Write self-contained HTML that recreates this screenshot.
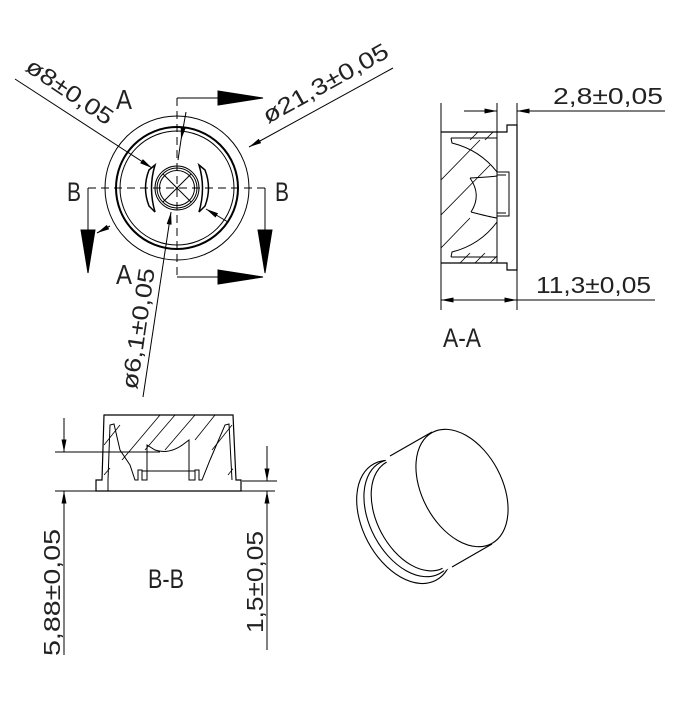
<!DOCTYPE html>
<html><head><meta charset="utf-8"><style>
html,body{margin:0;padding:0;background:#fff;}
svg{display:block;}
text{font-family:"Liberation Sans",sans-serif;fill:#222;}
</style></head><body>
<svg width="675" height="708" viewBox="0 0 675 708" xmlns="http://www.w3.org/2000/svg">
<defs>
<marker id="ar" viewBox="0 0 10 4" refX="10" refY="2" markerWidth="14" markerHeight="5" markerUnits="userSpaceOnUse" orient="auto"><path d="M0,0 L10,2 L0,4 Z" fill="#000"/></marker>
<clipPath id="ca"><path d="M441,132 H497 V263 H441 Z"/></clipPath>
<clipPath id="cb"><path d="M104,415 H233 V480 H104 Z"/></clipPath>
</defs>
<g fill="none" stroke="#000" stroke-width="1">
<circle cx="177" cy="188" r="72"/>
<circle cx="177" cy="188" r="61" stroke-width="2"/>
<circle cx="177" cy="188" r="57"/>
<circle cx="177" cy="188" r="22"/>
<circle cx="177" cy="188" r="20"/>
<circle cx="177" cy="188" r="17.5"/>
<path d="M155,165 L149,170 Q142,188 149,206 L155,212 Q148,188 155,165 Z" stroke-width="1.5"/>
<path d="M199,165 L205,170 Q212,188 205,206 L199,212 Q206,188 199,165 Z" stroke-width="1.5"/>
<line x1="163" y1="174" x2="191" y2="202"/>
<line x1="191" y1="174" x2="163" y2="202"/>
<line x1="88" y1="188" x2="265" y2="188" stroke-dasharray="8,5"/>
<line x1="177" y1="98" x2="177" y2="277" stroke-dasharray="8,5"/>
<polyline points="177,98 263,98"/><path d="M218,91 L263,98 L218,105 Z" fill="#000"/>
<polyline points="177,277 263,277"/><path d="M218,270 L263,277 L218,284 Z" fill="#000"/>
<polyline points="88,188 88,272"/><path d="M81,230 L88,273 L95,230 Z" fill="#000"/>
<polyline points="265,188 265,272"/><path d="M258,230 L265,273 L272,230 Z" fill="#000"/>
<line x1="15" y1="79" x2="152" y2="168" marker-end="url(#ar)"/>
<line x1="228" y1="222" x2="206" y2="209" marker-end="url(#ar)"/>
<line x1="393" y1="68" x2="249" y2="147" marker-end="url(#ar)"/>
<line x1="110" y1="226" x2="97" y2="233" marker-end="url(#ar)"/>
<line x1="143" y1="397" x2="171" y2="212" marker-end="url(#ar)"/>
<line x1="186" y1="112" x2="181" y2="140" marker-end="url(#ar)"/>
<line x1="181" y1="140" x2="178" y2="160"/>
<path d="M441,132 H507 V125 H517 V270 H507 V263 H441" stroke-width="1.2"/>
<line x1="441" y1="103" x2="441" y2="310"/>
<line x1="517" y1="103" x2="517" y2="310"/>
<line x1="497" y1="103" x2="497" y2="263"/>
<line x1="464" y1="111" x2="497" y2="111" marker-end="url(#ar)"/>
<line x1="665" y1="111" x2="517" y2="111" marker-end="url(#ar)"/>
<line x1="475" y1="300" x2="441" y2="300" marker-end="url(#ar)"/>
<line x1="475" y1="300" x2="517" y2="300" marker-end="url(#ar)"/>
<line x1="517" y1="300" x2="655" y2="300"/>
<path d="M451,138 H497 M451,138 L452,143 Q480,150 497,172 M451,257 H497 M451,257 L452,252 Q480,245 497,222"/>
<path d="M497,172 H509 V216 H497 M497,175 H506 M497,213 H506"/>
<path d="M470,178 Q490,177 497,176 M470,178 Q482,195 471,212 M471,212 Q490,217 497,218"/>
<g clip-path="url(#ca)" stroke-width="0.8">
<line x1="441" y1="180" x2="480" y2="140"/>
<line x1="441" y1="215" x2="490" y2="165"/>
<line x1="441" y1="248" x2="470" y2="218"/>
<line x1="470" y1="140" x2="480" y2="130"/>
<line x1="485" y1="140" x2="495" y2="130"/>
<line x1="460" y1="263" x2="470" y2="253"/>
<line x1="475" y1="263" x2="485" y2="253"/>
<line x1="490" y1="263" x2="497" y2="256"/>
</g>
<path d="M96,491 V480 H102 L104,415 H233 L236,480 H241 V491 Z" stroke-width="1.2"/>
<line x1="108" y1="480" x2="108" y2="491"/>
<path d="M108,480 L110,425 L114,424 L120,450 L130,465 L135,480 L138,480 L138,470 L142,470 L142,480 L147,480 L147,445 L155,450 Q170,455 185,443 L189,440 L189,480 L195,480 L195,470 L199,470 L199,480 L202,480 L210,460 L225,425 L229,424 L232,480"/>
<line x1="142" y1="471" x2="195" y2="471"/>
<g clip-path="url(#cb)" stroke-width="0.8">
<line x1="104" y1="445" x2="120" y2="425"/>
<line x1="122" y1="460" x2="160" y2="415"/>
<line x1="145" y1="450" x2="175" y2="415"/>
<line x1="165" y1="450" x2="195" y2="415"/>
<line x1="195" y1="440" x2="215" y2="415"/>
<line x1="212" y1="450" x2="232" y2="425"/>
<line x1="104" y1="475" x2="110" y2="468"/>
<line x1="228" y1="475" x2="236" y2="465"/>
</g>
<line x1="55" y1="452" x2="160" y2="452"/>
<line x1="55" y1="491" x2="275" y2="491"/>
<line x1="242" y1="481" x2="277" y2="481"/>
<line x1="64" y1="418" x2="64" y2="452" marker-end="url(#ar)"/>
<line x1="64" y1="655" x2="64" y2="491" marker-end="url(#ar)"/>
<line x1="267" y1="446" x2="267" y2="481" marker-end="url(#ar)"/>
<line x1="267" y1="650" x2="267" y2="491" marker-end="url(#ar)"/>
<g fill="#fff" stroke-width="1.1">
<ellipse cx="405" cy="522" rx="42" ry="66" transform="rotate(-28 405 522)"/>
<ellipse cx="410" cy="518" rx="40" ry="63" transform="rotate(-28 410 518)"/>
<ellipse cx="415" cy="515" rx="38" ry="60" transform="rotate(-28 415 515)"/>
<path d="M432,432 L385,459 L444,571 L492,544 Z" stroke="none"/>
<line x1="432" y1="432" x2="390" y2="456"/>
<line x1="492" y1="544" x2="452" y2="567"/>
<ellipse cx="462" cy="488" rx="40" ry="63" transform="rotate(-28 462 488)"/>
</g>
</g>
<g font-size="23">
<text x="116" y="109" font-size="28" textLength="16" lengthAdjust="spacingAndGlyphs">A</text>
<text x="116" y="284" font-size="28" textLength="16" lengthAdjust="spacingAndGlyphs">A</text>
<text x="67" y="201" font-size="27" textLength="14" lengthAdjust="spacingAndGlyphs">B</text>
<text x="275" y="201" font-size="27" textLength="14" lengthAdjust="spacingAndGlyphs">B</text>
<text x="553" y="104" textLength="110" lengthAdjust="spacingAndGlyphs">2,8±0,05</text>
<text x="536" y="293" textLength="115" lengthAdjust="spacingAndGlyphs">11,3±0,05</text>
<text x="443" y="347" font-size="27" textLength="38" lengthAdjust="spacingAndGlyphs">A-A</text>
<text x="148" y="588" font-size="27" textLength="36" lengthAdjust="spacingAndGlyphs">B-B</text>
<text transform="translate(24,70) rotate(34)" textLength="100" lengthAdjust="spacingAndGlyphs">ø8±0,05</text>
<text transform="translate(268,124) rotate(-29)" textLength="140" lengthAdjust="spacingAndGlyphs">ø21,3±0,05</text>
<text transform="translate(137,390) rotate(-81.6)" textLength="122" lengthAdjust="spacingAndGlyphs">ø6,1±0,05</text>
<text transform="translate(60,656) rotate(-90)" textLength="127" lengthAdjust="spacingAndGlyphs">5,88±0,05</text>
<text transform="translate(263,633) rotate(-90)" textLength="102" lengthAdjust="spacingAndGlyphs">1,5±0,05</text>
</g>
</svg>
</body></html>
